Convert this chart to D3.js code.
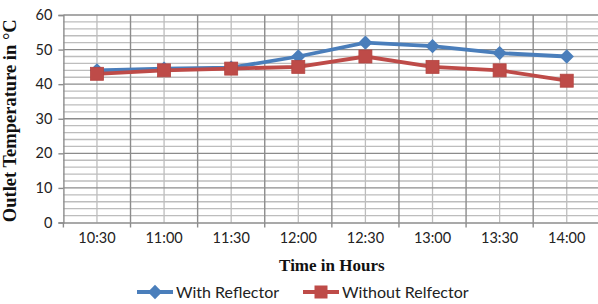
<!DOCTYPE html>
<html><head><meta charset="utf-8">
<script src="https://cdn.jsdelivr.net/npm/d3@7"></script>
<style>body{margin:0;background:#fff;}svg{display:block;}</style>
</head><body>
<script>
const categories = ["10:30","11:00","11:30","12:00","12:30","13:00","13:30","14:00"];
const withReflector = [44, 44.5, 44.8, 48, 52, 51, 49, 48];
const withoutReflector = [43, 44, 44.5, 45, 48, 45, 44, 41];
const seriesNames = ["With Reflector", "Without Relfector"];
const yTicks = [0,10,20,30,40,50,60];

const W = 598, H = 304;
const m = {left:63.4, top:15, right:600.3, bottom:222.5};
const svg = d3.select("body").append("svg").attr("width",W).attr("height",H);

const x = d3.scaleBand().domain(categories).range([m.left, m.right]);
const y = d3.scaleLinear().domain([0,60]).range([m.bottom, m.top]);

const sans = "Lato, 'Open Sans', sans-serif";
const serif = "'Liberation Serif', 'DejaVu Serif', serif";

// minor horizontal grid
const minor = d3.range(0, 61, 2).filter(v => v % 10 !== 0);
svg.append("g").selectAll("line").data(minor).join("line")
  .attr("x1", m.left).attr("x2", m.right)
  .attr("y1", d=>y(d)).attr("y2", d=>y(d))
  .attr("stroke","#bdbdbd").attr("stroke-width",1.3);
// minor vertical grid (category centers)
svg.append("g").selectAll("line").data(categories).join("line")
  .attr("x1", d=>x(d)+x.bandwidth()/2).attr("x2", d=>x(d)+x.bandwidth()/2)
  .attr("y1", m.top).attr("y2", m.bottom)
  .attr("stroke","#bdbdbd").attr("stroke-width",1.3);
// major horizontal grid
svg.append("g").selectAll("line").data(yTicks.filter(v=>v>0)).join("line")
  .attr("x1", m.left).attr("x2", m.right)
  .attr("y1", d=>y(d)).attr("y2", d=>y(d))
  .attr("stroke","#8c8c8c").attr("stroke-width",1.4);
// major vertical grid (category boundaries)
svg.append("g").selectAll("line").data(categories.slice(1).concat(["end"])).join("line")
  .attr("x1", (d,i)=>m.left + (i+1)*x.bandwidth()).attr("x2", (d,i)=>m.left + (i+1)*x.bandwidth())
  .attr("y1", m.top).attr("y2", m.bottom)
  .attr("stroke","#8c8c8c").attr("stroke-width",1.4);

// y axis
const yAxis = svg.append("g").attr("transform",`translate(${m.left},0)`)
  .call(d3.axisLeft(y).tickValues(yTicks).tickSize(5).tickPadding(6));
yAxis.select(".domain").attr("stroke","#8c8c8c").attr("stroke-width",1.4);
yAxis.selectAll(".tick line").attr("stroke","#8c8c8c").attr("stroke-width",1.4);
yAxis.selectAll("text").attr("font-family",sans).attr("font-size",14.5).attr("fill","#222");

// x axis
const xAxis = svg.append("g").attr("transform",`translate(0,${m.bottom})`)
  .call(d3.axisBottom(x).tickSize(0).tickPadding(10));
xAxis.select(".domain").attr("stroke","#8c8c8c").attr("stroke-width",1.4);
xAxis.selectAll("text").attr("font-family",sans).attr("font-size",14.5).attr("fill","#222");
// boundary ticks
svg.append("g").selectAll("line").data(d3.range(categories.length+1)).join("line")
  .attr("x1", i=>m.left + i*x.bandwidth()).attr("x2", i=>m.left + i*x.bandwidth())
  .attr("y1", m.bottom).attr("y2", m.bottom+5)
  .attr("stroke","#8c8c8c").attr("stroke-width",1.4);

const cx = c => x(c) + x.bandwidth()/2;
const blue = "#4a7ebb", red = "#be4b48";
const line = d3.line().x(d=>cx(d.c)).y(d=>y(d.v));
const diamond = d3.symbol(d3.symbolDiamond2, 130)();

const d1 = categories.map((c,i)=>({c, v:withReflector[i]}));
const d2 = categories.map((c,i)=>({c, v:withoutReflector[i]}));

svg.append("path").datum(d1).attr("d",line).attr("fill","none").attr("stroke",blue).attr("stroke-width",3.8);
svg.append("g").selectAll("path").data(d1).join("path")
  .attr("d", diamond)
  .attr("transform", d=>`translate(${cx(d.c)},${y(d.v)})`)
  .attr("fill",blue);

svg.append("path").datum(d2).attr("d",line).attr("fill","none").attr("stroke",red).attr("stroke-width",3.8);
svg.append("g").selectAll("rect").data(d2).join("rect")
  .attr("x", d=>cx(d.c)-6.5).attr("y", d=>y(d.v)-6.5).attr("width",13).attr("height",13)
  .attr("fill",red).attr("stroke","#b44541").attr("stroke-width",0.8);

// axis titles
svg.append("text").attr("x",(m.left+m.right)/2).attr("y",271).attr("text-anchor","middle")
  .attr("font-family",serif).attr("font-weight","bold").attr("font-size",17).attr("fill","#111")
  .text("Time in Hours");
svg.append("text").attr("transform",`translate(15.5,${(m.top+m.bottom)/2+2}) rotate(-90)`)
  .attr("text-anchor","middle")
  .attr("font-family",serif).attr("font-weight","bold").attr("font-size",18.5).attr("fill","#111")
  .text("Outlet Temperature in °C");

// legend
const lg = svg.append("g");
const ly = 292;
lg.append("line").attr("x1",137).attr("x2",173).attr("y1",ly).attr("y2",ly).attr("stroke",blue).attr("stroke-width",3.8);
lg.append("path").attr("d", diamond).attr("transform",`translate(155,${ly})`).attr("fill",blue);
lg.append("text").attr("x",176).attr("y",ly+6).attr("font-family",sans).attr("font-size",16).attr("fill","#222").text(seriesNames[0]);
lg.append("line").attr("x1",303).attr("x2",339).attr("y1",ly).attr("y2",ly).attr("stroke",red).attr("stroke-width",3.8);
lg.append("rect").attr("x",321-6.5).attr("y",ly-6.5).attr("width",13).attr("height",13).attr("fill",red);
lg.append("text").attr("x",342).attr("y",ly+6).attr("font-family",sans).attr("font-size",16).attr("fill","#222").text(seriesNames[1]);
</script>
</body></html>
